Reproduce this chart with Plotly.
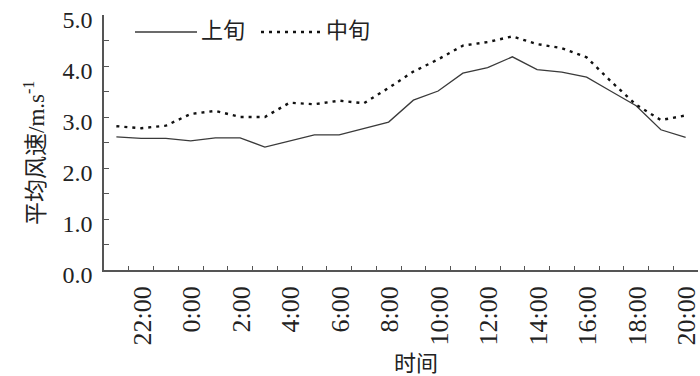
import plotly.graph_objects as go

# hour offsets from 20:00 (interval midpoints)
hours = [0.5, 1.5, 2.5, 3.5, 4.5, 5.5, 6.5, 7.5, 8.5, 9.5, 10.5, 11.5,
         12.5, 13.5, 14.5, 15.5, 16.5, 17.5, 18.5, 19.5, 20.5, 21.5, 22.5, 23.5]
shangxun = [2.61, 2.58, 2.58, 2.53, 2.59, 2.59, 2.41, 2.53, 2.65, 2.65, 2.78, 2.90,
            3.33, 3.51, 3.86, 3.97, 4.18, 3.93, 3.88, 3.78, 3.50, 3.22, 2.75, 2.60]
zhongxun = [2.82, 2.78, 2.83, 3.06, 3.12, 3.00, 3.00, 3.28, 3.25, 3.32, 3.27, 3.57,
            3.89, 4.13, 4.40, 4.47, 4.58, 4.43, 4.35, 4.17, 3.69, 3.24, 2.94, 3.03]
series_names = ["上旬", "中旬"]
x_tickvals = [2, 4, 6, 8, 10, 12, 14, 16, 18, 20, 22, 24]
x_ticktext = ["22:00", "0:00", "2:00", "4:00", "6:00", "8:00", "10:00",
              "12:00", "14:00", "16:00", "18:00", "20:00"]
y_tickvals = [0, 1, 2, 3, 4, 5]
y_ticktext = ["0.0", "1.0", "2.0", "3.0", "4.0", "5.0"]

FONT = "Liberation Serif, Noto Sans CJK SC, serif"
AXC = "#555555"
TXT = "#222222"
SOLID = dict(color="#3a3a3a", width=1.3)
DOTTED = dict(color="#111111", width=2.4, dash="3px,5px")

L, R, T, B, W, H = 104, 2, 15, 106, 700, 376
PW, PH = W - L - R, H - T - B


def px(xp):
    return (xp - L) / PW


def py(yp):
    return (H - B - yp) / PH


fig = go.Figure()
fig.add_trace(go.Scatter(x=hours, y=shangxun, mode="lines", name=series_names[0],
                         line=SOLID, showlegend=False))
fig.add_trace(go.Scatter(x=hours, y=zhongxun, mode="lines", name=series_names[1],
                         line=DOTTED, showlegend=False))

# legend drawn as line samples + labels (matches the long samples of the reference)
legend_shapes = [
    dict(type="line", xref="paper", yref="paper", x0=px(135), x1=px(197),
         y0=py(32), y1=py(32), line=SOLID),
    dict(type="line", xref="paper", yref="paper", x0=px(261), x1=px(322),
         y0=py(32), y1=py(32), line=DOTTED),
]
legend_ann = [
    dict(text=series_names[0], xref="paper", yref="paper", x=px(199), y=py(30),
         xanchor="left", yanchor="middle", showarrow=False,
         font=dict(size=22, family=FONT, color=TXT)),
    dict(text=series_names[1], xref="paper", yref="paper", x=px(324), y=py(30),
         xanchor="left", yanchor="middle", showarrow=False,
         font=dict(size=22, family=FONT, color=TXT)),
]

fig.update_layout(
    width=W, height=H,
    margin=dict(l=L, r=R, t=T, b=B, autoexpand=False),
    paper_bgcolor="white", plot_bgcolor="white",
    font=dict(family=FONT, color=TXT),
    showlegend=False,
    xaxis=dict(range=[0, 24], tickmode="array", tickvals=x_tickvals, ticktext=x_ticktext,
               tickangle=-90, ticks="inside", ticklen=4, tickcolor=AXC, automargin=False,
               showline=True, linecolor=AXC, linewidth=1.5, showgrid=False, zeroline=False,
               tickfont=dict(size=26, family=FONT, color=TXT),
               ticklabelshift=-11, ticklabelstandoff=4, ticklabeloverflow="allow",
               minor=dict(dtick=1, tick0=0, ticks="inside", ticklen=4, tickcolor=AXC)),
    yaxis=dict(range=[0, 5], tickmode="array", tickvals=y_tickvals, ticktext=y_ticktext,
               ticks="inside", ticklen=5, tickcolor=AXC, automargin=False,
               showline=True, linecolor=AXC, linewidth=1.5, showgrid=False, zeroline=False,
               tickfont=dict(size=24, family=FONT, color=TXT),
               ticklabelshift=5, ticklabelstandoff=5, ticklabeloverflow="allow",
               minor=dict(dtick=0.5, tick0=0, ticks="inside", ticklen=5, tickcolor=AXC)),
    shapes=legend_shapes,
    annotations=legend_ann + [
        dict(text="平均风速/m.s<sup>-1</sup>", textangle=-90, xref="paper", yref="paper",
             x=px(34), y=py(153), xanchor="center", yanchor="middle", showarrow=False,
             font=dict(size=23, family=FONT, color=TXT)),
        dict(text="时间", xref="paper", yref="paper", x=px(416), y=py(363),
             xanchor="center", yanchor="middle", showarrow=False,
             font=dict(size=22, family=FONT, color=TXT)),
    ],
)

fig.write_html("out.html", config={"displayModeBar": False},
               post_script="document.body.style.margin='0px';document.body.style.padding='0px';")
